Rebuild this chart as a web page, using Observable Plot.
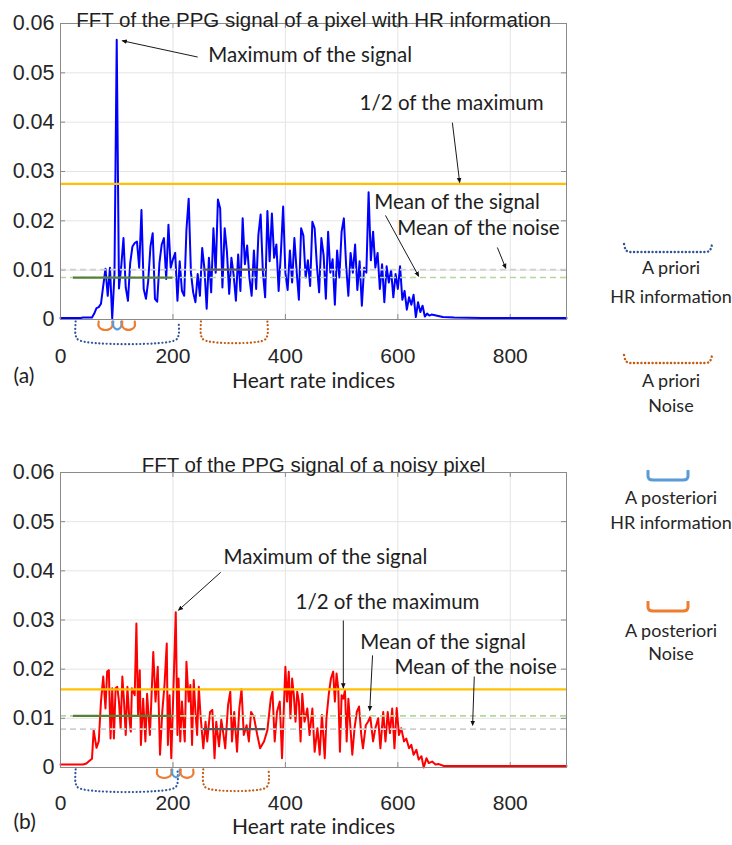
<!DOCTYPE html>
<html><head><meta charset="utf-8">
<script src="https://cdn.jsdelivr.net/npm/d3@7"></script>
<script src="https://cdn.jsdelivr.net/npm/@observablehq/plot@0.6"></script>
<style>
body{margin:0;background:#fff;}
#page{position:relative;width:732px;height:845px;overflow:hidden;background:#fff;}
#pa{position:absolute;left:0;top:0;}
#pb{position:absolute;left:0;top:445px;}
.legline{position:absolute;left:590px;width:162px;text-align:center;font:18px Lato,sans-serif;color:#262626;line-height:20px;height:20px;white-space:nowrap;}
.legbr{position:absolute;}
</style></head><body>
<div id="page"><div id="pa"></div><div id="pb"></div><div id="legend"></div></div>
<script>
// ---------- data ----------
const xTicks = [0, 200, 400, 600, 800];
const yTicks = [0, 0.01, 0.02, 0.03, 0.04, 0.05, 0.06];

// Panel (a): FFT amplitude of a pixel with HR information, every 4 indices from 0 to 660
const ampA = [
 0.0003,0.0003,0.0003,0.0003,0.0003,0.0003,0.0003,0.0003,0.0003,0.0003,
 0.0004,0.0004,0.0004,0.0004,0.0004,0.0012,0.0023,0.0025,0.0032,0.0068,
 0.0103,0.0048,0.0105,0.0002,0.0092,0.0567,0.0063,0.0107,0.0165,0.0065,
 0.0038,0.0115,0.0148,0.0155,0.0158,0.0105,0.0222,0.0062,0.0042,0.0078,
 0.0148,0.0175,0.0042,0.0036,0.0115,0.0152,0.0165,0.0082,0.0192,0.0105,
 0.0122,0.0135,0.0038,0.0118,0.0058,0.0048,0.0182,0.0245,0.0095,0.0055,
 0.0035,0.0092,0.0048,0.0145,0.0103,0.0022,0.0125,0.0055,0.0185,0.0095,
 0.0243,0.0225,0.0065,0.0185,0.0138,0.0052,0.0125,0.0090,0.0038,0.0132,
 0.0058,0.0205,0.0112,0.0150,0.0085,0.0048,0.0140,0.0062,0.0172,0.0213,
 0.0095,0.0045,0.0220,0.0118,0.0215,0.0125,0.0152,0.0058,0.0135,0.0229,
 0.0095,0.0060,0.0140,0.0075,0.0165,0.0098,0.0040,0.0185,0.0170,0.0085,
 0.0120,0.0068,0.0198,0.0185,0.0110,0.0055,0.0165,0.0130,0.0042,0.0178,
 0.0095,0.0122,0.0030,0.0140,0.0085,0.0178,0.0205,0.0110,0.0048,0.0135,
 0.0095,0.0152,0.0060,0.0118,0.0028,0.0105,0.0095,0.0258,0.0120,0.0178,
 0.0105,0.0135,0.0062,0.0112,0.0035,0.0108,0.0075,0.0100,0.0045,0.0092,
 0.0062,0.0108,0.0040,0.0058,0.0020,0.0045,0.0030,0.0050,0.0005,0.0035,
 0.0015,0.0028,0.0006,0.0012,0.0008,0.0010
];
const tailA = [[680,0.0005],[700,0.0004],[750,0.0003],[800,0.0003],[850,0.0003],[900,0.0003]];

// Panel (b): FFT amplitude of a noisy pixel, [index, amplitude]
const signalB = [
 [0,0.0006],[10,0.0006],[20,0.0006],[30,0.0006],[40,0.0006],[46,0.0008],[50,0.0012],[56,0.0018],
 [59,0.0076],[64,0.0040],[68,0.0053],[72,0.0134],[76,0.0185],[80,0.0120],[83,0.0195],[86,0.0198],
 [89,0.0059],[92,0.0161],[95,0.0059],[98,0.0161],[101,0.0164],[104,0.0134],[107,0.0080],[110,0.0185],
 [113,0.0134],[116,0.0066],[119,0.0164],[122,0.0107],[125,0.0073],[127,0.0161],[132,0.0147],[135,0.0293],
 [138,0.0107],[141,0.0198],[143,0.0046],[147,0.0140],[151,0.0053],[154,0.0150],[159,0.0066],[161,0.0120],
 [165,0.0235],[169,0.0134],[173,0.0205],[177,0.0026],[181,0.0113],[185,0.0168],[189,0.0252],[191,0.0046],
 [194,0.0147],[197,0.0019],[200,0.0127],[205,0.0316],[208,0.0066],[210,0.0181],[213,0.0053],[216,0.0134],
 [221,0.0053],[224,0.0215],[228,0.0134],[231,0.0168],[234,0.0046],[237,0.0178],[240,0.0113],[243,0.0066],
 [246,0.0164],[249,0.0107],[254,0.0039],[258,0.0093],[261,0.0053],[266,0.0113],[270,0.0117],[274,0.0019],
 [277,0.0093],[282,0.0043],[286,0.0097],[290,0.0066],[293,0.0039],[298,0.0127],[302,0.0154],[305,0.0053],
 [309,0.0113],[314,0.0032],[318,0.0120],[322,0.0159],[326,0.0066],[331,0.0086],[335,0.0053],[339,0.0113],
 [344,0.0103],[350,0.0066],[355,0.0039],[362,0.0053],[368,0.0076],[374,0.0140],[377,0.0154],[381,0.0053],
 [385,0.0113],[390,0.0134],[394,0.0019],[397,0.0113],[400,0.0205],[403,0.0134],[406,0.0195],[409,0.0100],
 [412,0.0181],[415,0.0147],[418,0.0093],[421,0.0154],[424,0.0134],[427,0.0053],[430,0.0150],[434,0.0093],
 [439,0.0120],[443,0.0066],[448,0.0120],[452,0.0032],[457,0.0080],[461,0.0026],[465,0.0107],[470,0.0019],
 [473,0.0100],[477,0.0147],[481,0.0181],[485,0.0195],[488,0.0134],[491,0.0191],[494,0.0161],[497,0.0032],
 [500,0.0147],[503,0.0140],[506,0.0157],[509,0.0053],[512,0.0140],[515,0.0093],[519,0.0026],[523,0.0080],
 [527,0.0113],[531,0.0124],[535,0.0066],[538,0.0039],[543,0.0086],[547,0.0093],[551,0.0103],[556,0.0053],
 [560,0.0080],[565,0.0100],[569,0.0039],[574,0.0113],[578,0.0053],[582,0.0113],[586,0.0070],[590,0.0120],
 [594,0.0039],[598,0.0121],[602,0.0066],[606,0.0080],[611,0.0053],[615,0.0059],[620,0.0039],[624,0.0046],
 [628,0.0026],[633,0.0036],[637,0.0016],[642,0.0023],[646,0.0000],[651,0.0019],[655,0.0009],[661,0.0012],
 [667,0.0006],[673,0.0007],[682,0.0003],[700,0.0003],[750,0.0003],[800,0.0003],[850,0.0003],[900,0.0003]
];

// reference levels: half of maximum, mean of the signal (HR band), mean of the noise
const levelsA = {half: 0.0275, hrMean: 0.0085, noiseMean: 0.0101};
const levelsB = {half: 0.0159, hrMean: 0.0105, noiseMean: 0.0078};
const hrBand = [23, 200];
const noiseBand = [254, 365];

// bracket ranges (heart-rate index) under each panel
const bracketsA = [
 {kind: "prioriHR", from: 27, to: 210},
 {kind: "prioriNoise", from: 250, to: 368},
 {kind: "postNoise", from: 68, to: 92},
 {kind: "postHR", from: 94, to: 108},
 {kind: "postNoise", from: 110, to: 132}
];
const bracketsB = [
 {kind: "prioriHR", from: 27, to: 208},
 {kind: "prioriNoise", from: 254, to: 370},
 {kind: "postNoise", from: 172, to: 197},
 {kind: "postHR", from: 199, to: 212},
 {kind: "postNoise", from: 214, to: 236}
];

// annotations: label position and arrow (tail -> head)
const notesA = [
 {label: "Maximum of the signal", tx: 263, ty: 0.0535, x1: 244, y1: 0.0532, x2: 110, y2: 0.0565},
 {label: "1/2 of the maximum", tx: 532, ty: 0.0438, x1: 697, y1: 0.0399, x2: 710, y2: 0.0278},
 {label: "Mean of the signal", tx: 558, ty: 0.0237, x1: 578, y1: 0.0211, x2: 637, y2: 0.0088},
 {label: "Mean of the noise", tx: 599, ty: 0.0184, x1: 777, y1: 0.0146, x2: 792, y2: 0.0104}
];
const notesB = [
 {label: "Maximum of the signal", tx: 290, ty: 0.0427, x1: 285, y1: 0.0397, x2: 210, y2: 0.0320},
 {label: "1/2 of the maximum", tx: 418, ty: 0.0336, x1: 503, y1: 0.0299, x2: 503, y2: 0.0162},
 {label: "Mean of the signal", tx: 533, ty: 0.0254, x1: 555, y1: 0.0228, x2: 550, y2: 0.0116},
 {label: "Mean of the noise", tx: 594, ty: 0.0203, x1: 736, y1: 0.0185, x2: 733, y2: 0.0086}
];

const legendItems = [
 {kind: "prioriHR", lines: ["A priori", "HR information"]},
 {kind: "prioriNoise", lines: ["A priori", "Noise"]},
 {kind: "postHR", lines: ["A posteriori", "HR information"]},
 {kind: "postNoise", lines: ["A posteriori", "Noise"]}
];

// ---------- styles ----------
const bracketStyle = {
 prioriHR: {color: "#2F5597", dotted: true},
 prioriNoise: {color: "#C55A11", dotted: true},
 postHR: {color: "#5B9BD5", dotted: false},
 postNoise: {color: "#ED7D31", dotted: false}
};
const TICKFONT = "'Liberation Sans', Arial, sans-serif";
const NOTEFONT = "Lato, 'Open Sans', sans-serif";

// bracket outline (rounded U) from a range
function bracketPoints(list) {
  const pts = [];
  list.forEach((b, i) => {
    const st = bracketStyle[b.kind];
    const top = -0.0004, bot = st.dotted ? -0.0042 : -0.0020, r = st.dotted ? 0.0010 : 0.0006, rx = 6;
    [[b.from, top], [b.from, bot + r], [b.from + rx, bot], [b.to - rx, bot], [b.to, bot + r], [b.to, top]]
      .forEach(([x, y]) => pts.push({id: i, kind: b.kind, x, y}));
  });
  return pts;
}

function panel({signal, color, levels, brackets, notes, title, tag, mTop, mBottom, titleDy, tickPad, labDy, tagDy}) {
  const pts = bracketPoints(brackets);
  const dotted = pts.filter(d => bracketStyle[d.kind].dotted);
  const solid = pts.filter(d => !bracketStyle[d.kind].dotted);
  const chart = Plot.plot({
    width: 600, height: 400,
    marginLeft: 60, marginRight: 34, marginTop: mTop, marginBottom: mBottom,
    x: {domain: [0, 900]},
    y: {domain: [0, 0.06]},
    style: {fontFamily: TICKFONT, fontSize: "21px", color: "#262626", background: "transparent", overflow: "visible"},
    marks: [
      Plot.gridX(xTicks.slice(1), {stroke: "#e4e4e4", strokeOpacity: 1}),
      Plot.gridY(yTicks.slice(1), {stroke: "#e4e4e4", strokeOpacity: 1}),
      Plot.axisY(yTicks, {tickSize: 0, tickPadding: 6, label: null, fontSize: 21.5, tickFormat: d => d === 0 ? "0" : d3.format(".2f")(d)}),
      Plot.axisX(xTicks, {tickSize: 0, tickPadding: tickPad, label: null, fontSize: 21}),
      // inner tick marks
      Plot.ruleY(yTicks, {x1: 0, x2: 9, stroke: "#8a8a8a"}),
      Plot.ruleY(yTicks, {x1: 891, x2: 900, stroke: "#8a8a8a"}),
      Plot.ruleX(xTicks, {y1: 0, y2: 0.001, stroke: "#8a8a8a"}),
      Plot.ruleX(xTicks, {y1: 0.059, y2: 0.06, stroke: "#8a8a8a"}),
      Plot.line(signal, {x: "0", y: "1", stroke: color, strokeWidth: 2}),
      Plot.ruleY([levels.noiseMean], {stroke: "#cfcfcf", strokeWidth: 1.6, strokeDasharray: "6,4"}),
      Plot.ruleY([levels.hrMean], {stroke: "#b5d79a", strokeWidth: 1.6, strokeDasharray: "6,4"}),
      Plot.ruleY([levels.hrMean], {x1: hrBand[0], x2: hrBand[1], stroke: "#548235", strokeWidth: 2.2}),
      Plot.ruleY([levels.noiseMean], {x1: noiseBand[0], x2: noiseBand[1], stroke: "#595959", strokeWidth: 2.2}),
      Plot.ruleY([levels.half], {stroke: "#FFC000", strokeWidth: 2.2}),
      Plot.frame({stroke: "#8a8a8a"}),
      Plot.line(dotted, {x: "x", y: "y", z: "id", stroke: d => bracketStyle[d.kind].color, strokeWidth: 2.2, strokeDasharray: "0.1,3.6", strokeLinecap: "round", curve: "catmull-rom"}),
      Plot.line(solid, {x: "x", y: "y", z: "id", stroke: d => bracketStyle[d.kind].color, strokeWidth: 2.2, curve: "catmull-rom"}),
      Plot.link(notes, {x1: "x1", y1: "y1", x2: "x2", y2: "y2", stroke: "#1a1a1a", strokeWidth: 1, markerEnd: "arrow"}),
      Plot.text(notes, {x: "tx", y: "ty", text: "label", textAnchor: "start", fontSize: 20.5, fontFamily: NOTEFONT, fill: "#1e1e1e"}),
      Plot.text([title], {text: d => d, frameAnchor: "top", dy: titleDy, fontSize: 20.5, fontFamily: TICKFONT, fill: "#1e1e1e"}),
      Plot.text(["Heart rate indices"], {text: d => d, frameAnchor: "bottom", dy: labDy, fontSize: 21, fontFamily: NOTEFONT, fill: "#1e1e1e"}),
      Plot.text([tag], {text: d => d, frameAnchor: "bottom-left", dx: -47, dy: tagDy, fontSize: 21, fontFamily: NOTEFONT, fill: "#1e1e1e"})
    ]
  });
  chart.querySelectorAll("marker").forEach(m => {
    m.setAttribute("fill", "#111");
    m.setAttribute("stroke", "none");
    m.setAttribute("markerWidth", "9");
    m.setAttribute("markerHeight", "9");
    const p = m.querySelector("path");
    if (p) p.setAttribute("d", "M-5,-2.6L1,0L-5,2.6Z");
  });
  return chart;
}

const signalA = ampA.map((v, i) => [i * 4, v]).concat(tailA);

document.getElementById("pa").appendChild(panel({
  signal: signalA, color: "#0000ff", levels: levelsA, brackets: bracketsA, notes: notesA,
  title: "FFT of the PPG signal of a pixel with HR information", tag: "(a)",
  mTop: 23, mBottom: 81, titleDy: -11, tickPad: 29, labDy: 68, tagDy: 63
}));
document.getElementById("pb").appendChild(panel({
  signal: signalB, color: "#ff0000", levels: levelsB, brackets: bracketsB, notes: notesB,
  title: "FFT of the PPG signal of a noisy pixel", tag: "(b)",
  mTop: 27, mBottom: 78, titleDy: -15, tickPad: 28, labDy: 66, tagDy: 61
}));

// ---------- legend ----------
const legendLayout = [
 {top: 242, text: [267, 296]},
 {top: 353, text: [380, 405]},
 {top: 470, text: [497, 522]},
 {top: 601, text: [630, 653]}
];
const leg = document.getElementById("legend");
legendItems.forEach((item, i) => {
  const st = bracketStyle[item.kind];
  const lay = legendLayout[i];
  const ns = "http://www.w3.org/2000/svg";
  const svg = document.createElementNS(ns, "svg");
  const w = st.dotted ? 94 : 48;
  svg.setAttribute("width", w); svg.setAttribute("height", 14);
  svg.setAttribute("class", "legbr");
  svg.style.left = (668 - w / 2) + "px";
  svg.style.top = lay.top + "px";
  const path = document.createElementNS(ns, "path");
  if (st.dotted) {
    path.setAttribute("d", `M3,2 Q4,10 9,10 L${w - 9},10 Q${w - 4},10 ${w - 3},2`);
    path.setAttribute("stroke-dasharray", "0.1,3.6");
  } else {
    path.setAttribute("d", `M4,1 L4,6 Q4,10 9,10 L${w - 9},10 Q${w - 4},10 ${w - 4},6 L${w - 4},1`);
  }
  path.setAttribute("fill", "none");
  path.setAttribute("stroke", st.color);
  path.setAttribute("stroke-width", st.dotted ? 2.4 : 3);
  path.setAttribute("stroke-linecap", "round");
  svg.appendChild(path);
  leg.appendChild(svg);
  item.lines.forEach((t, j) => {
    const d = document.createElement("div");
    d.className = "legline";
    d.style.top = (lay.text[j] - 10) + "px";
    d.textContent = t;
    leg.appendChild(d);
  });
});
</script>
</body></html>
